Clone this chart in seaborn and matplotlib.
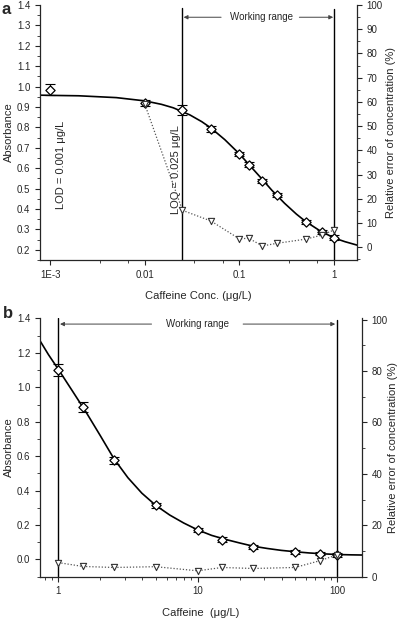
import matplotlib
matplotlib.use("Agg")
import matplotlib.pyplot as plt
import matplotlib.ticker as mticker
import seaborn as sns
import numpy as np

# panel a: caffeine calibration, low range
a_conc = [0.001, 0.01, 0.025, 0.05, 0.1, 0.125, 0.175, 0.25, 0.5, 0.75, 1.0]
a_abs = [0.985, 0.92, 0.885, 0.793, 0.669, 0.616, 0.535, 0.47, 0.334, 0.287, 0.26]
a_abs_err = [0.026, 0.015, 0.026, 0.015, 0.01, 0.012, 0.01, 0.01, 0.01, 0.01, 0.012]
a_err_conc = [0.01, 0.025, 0.05, 0.1, 0.125, 0.175, 0.25, 0.5, 0.75, 1.0]
a_rel_err = [59.0, 15.2, 10.8, 3.4, 3.7, 0.5, 1.6, 3.3, 5.0, 7.1]
a_fit_x = [0.00078, 0.001, 0.002, 0.005, 0.01, 0.015, 0.02, 0.03, 0.04, 0.05,
           0.07, 0.1, 0.13, 0.17, 0.22, 0.3, 0.4, 0.5, 0.7, 1.0, 1.3, 1.75]
a_fit_y = [0.958, 0.957, 0.955, 0.946, 0.93, 0.913, 0.896, 0.861, 0.828, 0.797,
           0.74, 0.67, 0.611, 0.551, 0.492, 0.428, 0.375, 0.339, 0.295, 0.258,
           0.24, 0.223]

# panel b: caffeine calibration, high range
b_conc = [1, 1.5, 2.5, 5, 10, 15, 25, 50, 75, 100]
b_abs = [1.10, 0.883, 0.577, 0.315, 0.17, 0.116, 0.073, 0.044, 0.034, 0.025]
b_abs_err = [0.036, 0.029, 0.02, 0.015, 0.01, 0.012, 0.01, 0.01, 0.01, 0.01]
b_rel_err = [5.5, 4.0, 3.6, 3.9, 2.3, 3.6, 3.2, 3.6, 6.2, 8.5]
b_fit_x = [0.74, 0.85, 1, 1.26, 1.585, 2.0, 2.51, 3.16, 3.98, 5.01, 6.31, 7.94,
           10, 12.6, 15.8, 20, 25.1, 31.6, 39.8, 50.1, 63.1, 79.4, 100, 126, 151]
b_fit_y = [1.27, 1.19, 1.105, 0.98, 0.855, 0.72, 0.585, 0.475, 0.385, 0.314,
           0.258, 0.212, 0.172, 0.14, 0.117, 0.096, 0.077, 0.064, 0.053, 0.045,
           0.038, 0.033, 0.029, 0.027, 0.026]

sns.set_style("ticks")
plt.rcParams['font.family'] = ['Liberation Sans', 'DejaVu Sans']
plt.rcParams['xtick.major.size'] = 3.5
plt.rcParams['ytick.major.size'] = 3.5
plt.rcParams['xtick.minor.size'] = 2
plt.rcParams['ytick.minor.size'] = 2
plt.rcParams['axes.linewidth'] = 0.9

TICK = 7
LAB = 8

fig = plt.figure(figsize=(3.97, 6.18), dpi=100)


def draw_panel(ax, conc, absb, abserr, econc, rel, fx, fy):
    sns.lineplot(x=fx, y=fy, ax=ax, color='black', lw=1.2, sort=False)
    ax.errorbar(conc, absb, yerr=abserr, fmt='none', ecolor='black',
                elinewidth=0.8, capsize=3.5, capthick=0.8, zorder=3)
    sns.scatterplot(x=conc, y=absb, ax=ax, marker='D', s=22,
                    facecolor='white', edgecolor='black', linewidth=0.9, zorder=4)
    axr = ax.twinx()
    sns.lineplot(x=econc, y=rel, ax=axr, color='#555555', lw=0.9,
                 linestyle=(0, (1, 1.5)), sort=False)
    sns.scatterplot(x=econc, y=rel, ax=axr, marker='v', s=20,
                    facecolor='white', edgecolor='#333333', linewidth=0.8, zorder=4)
    for a in (ax, axr):
        a.spines['top'].set_visible(False)
        a.tick_params(labelsize=TICK, which='both', direction='out')
    ax.spines['right'].set_visible(False)
    axr.spines['left'].set_visible(False)
    axr.spines['bottom'].set_visible(False)
    ax.set_ylabel('Absorbance', fontsize=LAB, labelpad=2)
    axr.set_ylabel('Relative error of concentration (%)', fontsize=LAB, labelpad=2)
    return axr


# ---- panel a ----
axa = fig.add_axes([0.1008, 0.5793, 0.7985, 0.4126])
axa.set_xscale('log')
axra = draw_panel(axa, a_conc, a_abs, a_abs_err, a_err_conc, a_rel_err, a_fit_x, a_fit_y)
axa.set_xlim(7.8e-4, 1.75)
axa.set_ylim(0.15, 1.4)
axra.set_ylim(-5.3, 100)
axa.set_yticks(np.arange(0.2, 1.41, 0.1))
axa.yaxis.set_minor_locator(mticker.MultipleLocator(0.05))
axa.yaxis.set_major_formatter(mticker.FormatStrFormatter('%.1f'))
axra.set_yticks(np.arange(0, 101, 10))
axra.yaxis.set_minor_locator(mticker.MultipleLocator(5))
axa.set_xticks([0.001, 0.01, 0.1, 1])
axa.set_xticklabels(['1E-3', '0.01', '0.1', '1'])
axa.xaxis.set_minor_locator(mticker.FixedLocator(
    [0.00333, 0.00667, 0.0333, 0.0667, 0.333, 0.667]))
axa.xaxis.set_minor_formatter(mticker.NullFormatter())
axa.set_xlabel('Caffeine Conc. (\u03bcg/L)', fontsize=LAB, labelpad=8)
axa.axvline(0.025, ymax=0.987, color='black', lw=1.0)
axa.axvline(1.0, ymax=0.983, color='black', lw=1.0)
axa.text(0.0013, 0.617, 'LOD = 0.001 \u03bcg/L', rotation=90, fontsize=LAB,
         ha='center', va='center')
axa.text(0.0211, 0.592, 'LOQ = 0.025 \u03bcg/L', rotation=90, fontsize=LAB,
         ha='center', va='center')
arr = dict(arrowstyle='-|>', color='#444444', lw=0.7, mutation_scale=6,
           shrinkA=0, shrinkB=0)
axa.annotate('', xy=(0.0257, 1.34), xytext=(0.064, 1.34), arrowprops=arr)
axa.annotate('', xy=(0.98, 1.34), xytext=(0.43, 1.34), arrowprops=arr)
axa.text(0.17, 1.34, 'Working range', fontsize=TICK, ha='center', va='center')
fig.text(0.005, 0.985, 'a', fontsize=12, fontweight='bold', va='center')

# ---- panel b ----
axb = fig.add_axes([0.1008, 0.0668, 0.811, 0.418])
axb.set_xscale('log')
axrb = draw_panel(axb, b_conc, b_abs, b_abs_err, b_conc, b_rel_err, b_fit_x, b_fit_y)
axrb.set_ylabel('Relative error of concentration (%)', fontsize=LAB, labelpad=0)
axb.set_xlim(0.74, 151)
axb.set_ylim(-0.1, 1.4)
axrb.set_ylim(0, 100.5)
axb.set_yticks(np.arange(0, 1.41, 0.2))
axb.yaxis.set_minor_locator(mticker.MultipleLocator(0.1))
axb.yaxis.set_major_formatter(mticker.FormatStrFormatter('%.1f'))
axrb.set_yticks(np.arange(0, 101, 20))
axrb.yaxis.set_minor_locator(mticker.MultipleLocator(10))
axb.set_xticks([1, 10, 100])
axb.set_xticklabels(['1', '10', '100'])
axb.xaxis.set_minor_locator(mticker.LogLocator(base=10, subs=np.arange(2, 10)))
axb.xaxis.set_minor_formatter(mticker.NullFormatter())
axb.set_xlabel('Caffeine  (\u03bcg/L)', fontsize=LAB, labelpad=8)
axb.axvline(1.0, ymax=1.0, color='black', lw=1.0)
axb.axvline(100.0, ymax=0.994, color='black', lw=1.0)
axb.annotate('', xy=(1.03, 1.367), xytext=(4.67, 1.367), arrowprops=arr)
axb.annotate('', xy=(97, 1.367), xytext=(21.2, 1.367), arrowprops=arr)
axb.text(10, 1.367, 'Working range', fontsize=TICK, ha='center', va='center')
fig.text(0.008, 0.493, 'b', fontsize=12, fontweight='bold', va='center')

fig.savefig('out.png', dpi=100)
